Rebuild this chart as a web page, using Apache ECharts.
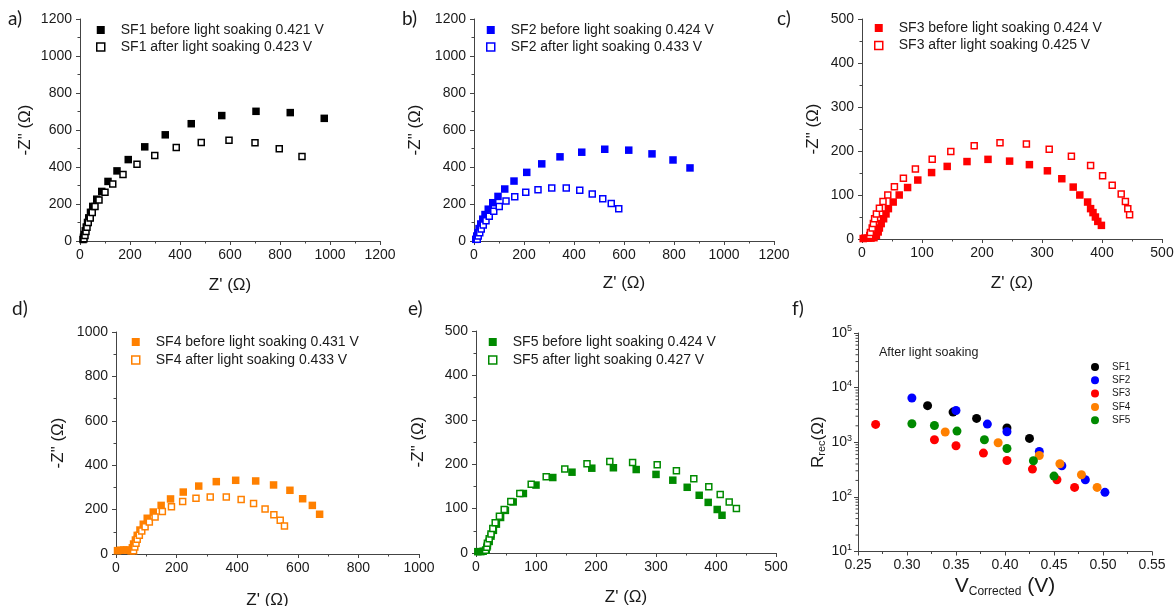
<!DOCTYPE html>
<html><head><meta charset="utf-8">
<script src="https://cdn.jsdelivr.net/npm/echarts@6/dist/echarts.min.js"></script>
<style>html,body{margin:0;padding:0;background:#fff}#c{width:1175px;height:606px}</style>
</head><body><div id="c"></div>
<script>
// ---------- DATA (Z' , -Z'') ----------
const sf1Before = [[12,8],[14,20],[17,35],[21,55],[25,75],[30,100],[35,125],[42,155],[51,187],[67,226],[87,268],[112,322],[148,379],[193,440],[259,509],[341,574],[445,634],[567,678],[704,701],[841,694],[977,663]];
const sf1After = [[16,12],[20,30],[24,51],[28,75],[33,100],[41,125],[49,154],[60,187],[76,221],[100,263],[131,308],[172,359],[228,415],[299,462],[385,505],[485,533],[596,545],[700,531],[797,498],[888,457]];
const sf2Before = [[7,9],[11,27],[15,45],[20,67],[27,92],[35,118],[44,143],[57,172],[75,207],[96,241],[123,281],[160,324],[211,371],[271,417],[344,455],[431,480],[523,496],[619,491],[712,471],[796,438],[864,395]];
const sf2After = [[13,9],[17,27],[23,45],[29,65],[37,87],[48,110],[61,134],[79,161],[101,187],[128,216],[163,239],[207,263],[256,277],[311,286],[369,286],[423,275],[473,254],[515,228],[549,203],[579,174]];
const sf3Before = [[2,1],[5,2],[10,2],[15,2],[20,3],[24,8],[27,16],[29,25],[32,35],[36,46],[40,57],[44,69],[52,84],[62,100],[76,117],[93,134],[116,151],[142,165],[175,176],[210,181],[246,177],[279,169],[309,155],[333,137],[352,118],[363,100],[376,84],[381,69],[385,60],[389,50],[393,40],[399,31]];
const sf3After = [[13,8],[14,15],[17,25],[19,35],[21,46],[24,57],[29,70],[35,85],[43,100],[54,119],[69,138],[89,159],[117,181],[148,199],[187,212],[230,219],[274,216],[312,204],[349,188],[381,167],[401,144],[417,122],[432,102],[439,85],[443,69],[446,55]];
const sf4Before = [[5,15],[15,17],[25,18],[35,18],[45,17],[50,14],[54,28],[58,45],[64,63],[70,84],[79,108],[90,134],[103,161],[123,189],[149,219],[180,248],[222,279],[273,306],[331,326],[395,332],[461,329],[520,311],[574,287],[616,249],[648,219],[672,179]];
const sf4After = [[58,15],[62,32],[66,48],[70,66],[77,84],[85,104],[96,123],[110,144],[129,167],[153,192],[183,213],[220,236],[264,251],[311,257],[364,257],[413,246],[454,228],[492,203],[521,177],[542,152],[556,126]];
const sf5Before = [[3,3],[8,3],[12,4],[17,7],[19,16],[22,26],[25,38],[29,51],[34,65],[41,80],[49,96],[62,115],[79,134],[100,153],[128,170],[160,182],[193,191],[229,192],[267,188],[300,177],[328,164],[352,148],[372,130],[387,114],[402,98],[410,85]];
const sf5After = [[16,6],[18,13],[19,22],[22,32],[25,43],[28,55],[32,68],[39,83],[47,98],[58,116],[73,134],[92,155],[117,172],[148,189],[185,201],[223,206],[261,204],[302,199],[334,185],[363,167],[388,149],[407,132],[422,115],[434,100]];
// ---------- DATA panel f (V corrected, R rec) ----------
const rrecSF1 = [[0.321,4670],[0.347,3570],[0.371,2730],[0.402,1820],[0.425,1175]];
const rrecSF2 = [[0.305,6460],[0.350,3820],[0.382,2150],[0.402,1560],[0.435,680],[0.458,372],[0.482,206],[0.502,121]];
const rrecSF3 = [[0.268,2120],[0.328,1110],[0.350,863],[0.378,634],[0.402,464],[0.428,323],[0.453,206],[0.471,149]];
const rrecSF4 = [[0.339,1540],[0.393,980],[0.435,573],[0.456,404],[0.478,254],[0.494,149]];
const rrecSF5 = [[0.305,2180],[0.328,2030],[0.351,1600],[0.379,1110],[0.402,770],[0.429,458],[0.450,240]];
// ---------- LABELS ----------
const panelLabels = ['a)','b)','c)','d)','e)','f)'];
const legendNames = [
  ['SF1 before light soaking 0.421 V','SF1 after light soaking 0.423 V'],
  ['SF2 before light soaking 0.424 V','SF2 after light soaking 0.433 V'],
  ['SF3 before light soaking 0.424 V','SF3 after light soaking 0.425 V'],
  ['SF4 before light soaking 0.431 V','SF4 after light soaking 0.433 V'],
  ['SF5 before light soaking 0.424 V','SF5 after light soaking 0.427 V']
];
const fNames = ['SF1','SF2','SF3','SF4','SF5'];
const fNote = 'After light soaking';

const colors = ['#000000','#0000ff','#ff0000','#ff8000','#008a00'];
const pairs = [[sf1Before,sf1After],[sf2Before,sf2After],[sf3Before,sf3After],[sf4Before,sf4After],[sf5Before,sf5After]];
const rrec = [rrecSF1,rrecSF2,rrecSF3,rrecSF4,rrecSF5];

// ---------- LAYOUT ----------
const layout = [
  {grid:{left:80,top:19,width:300,height:222}, x:[0,1200,200], y:[0,1200,200], xGap:36, yGap:46, leg:{left:96,top:23,gap:3}, lab:{left:8,top:9}},
  {grid:{left:474,top:19,width:300,height:222}, x:[0,1200,200], y:[0,1200,200], xGap:34, yGap:50, leg:{left:486,top:23,gap:3}, lab:{left:402,top:9}},
  {grid:{left:862,top:19,width:300,height:220}, x:[0,500,100], y:[0,500,100], xGap:36, yGap:40, leg:{left:874,top:21,gap:3.5}, lab:{left:777,top:9}},
  {grid:{left:116,top:332,width:303,height:222}, x:[0,1000,200], y:[0,1000,200], xGap:38, yGap:49, leg:{left:131,top:335,gap:4}, lab:{left:12,top:299}},
  {grid:{left:476,top:331,width:300,height:222}, x:[0,500,100], y:[0,500,100], xGap:36, yGap:49, leg:{left:488,top:335,gap:4}, lab:{left:408,top:299}}
];
const FONT = 'Liberation Sans';
const axisCol = '#444';

function baseAxis(gi, r){
  return {
    type:'value', gridIndex:gi, min:r[0], max:r[1], interval:r[2],
    axisLine:{show:true,onZero:false,lineStyle:{color:axisCol,width:1}},
    axisTick:{show:true,length:4,lineStyle:{color:axisCol}},
    minorTick:{show:true,splitNumber:2,length:2.5,lineStyle:{color:axisCol}},
    splitLine:{show:false}, minorSplitLine:{show:false},
    axisLabel:{color:'#1a1a1a',fontSize:14,fontFamily:FONT,margin:7,formatter:v=>String(v)},
    nameLocation:'middle',
    nameTextStyle:{fontSize:17,color:'#1a1a1a',fontFamily:FONT}
  };
}

const grids=[], xAxes=[], yAxes=[], series=[], legends=[], titles=[];
layout.forEach((L,i)=>{
  grids.push(Object.assign({containLabel:false,outerBoundsMode:'none'},L.grid));
  xAxes.push(Object.assign(baseAxis(i,L.x),{name:"Z' (Ω)",nameGap:L.xGap}));
  yAxes.push(Object.assign(baseAxis(i,L.y),{name:'-Z" (Ω)',nameGap:L.yGap,axisLabel:{color:'#1a1a1a',fontSize:14,fontFamily:FONT,margin:8,formatter:v=>String(v)}}));
  const c = colors[i];
  series.push({type:'scatter',name:legendNames[i][0],xAxisIndex:i,yAxisIndex:i,data:pairs[i][0],
    symbol:'rect',symbolSize:7.5,itemStyle:{color:c,opacity:1},emphasis:{disabled:true},z:2});
  series.push({type:'scatter',name:legendNames[i][1],xAxisIndex:i,yAxisIndex:i,data:pairs[i][1],
    symbol:'rect',symbolSize:6,itemStyle:{color:'#ffffff',borderColor:c,borderWidth:1.5,opacity:1},emphasis:{disabled:true},z:3});
  legends.push({data:legendNames[i],left:L.leg.left,top:L.leg.top,orient:'vertical',padding:0,
    itemWidth:8,itemHeight:8,itemGap:L.leg.gap,selectedMode:false,
    itemStyle:{borderWidth:1.5},
    textStyle:{fontSize:14,color:'#1a1a1a',fontFamily:FONT,padding:[0,0,0,11]}});
  titles.push({text:panelLabels[i],left:L.lab.left,top:L.lab.top,padding:0,
    textStyle:{fontSize:19,fontWeight:'normal',color:'#1a1a1a',fontFamily:'Lato'}});
});

// panel f
const fi = 5;
grids.push({left:858,top:333,width:294,height:218.5,containLabel:false,outerBoundsMode:'none'});
xAxes.push(Object.assign(baseAxis(fi,[0.25,0.55,0.05]),{
  axisLabel:{color:'#1a1a1a',fontSize:14,fontFamily:FONT,margin:7,formatter:v=>v.toFixed(2)},
  name:'V{sub|Corrected} (V)',nameGap:24,
  nameTextStyle:{fontSize:21,color:'#1a1a1a',fontFamily:FONT,rich:{sub:{fontSize:12,verticalAlign:'bottom',padding:[10,0,0,0],fontFamily:FONT,color:'#1a1a1a'}}}
}));
yAxes.push({type:'log',logBase:10,gridIndex:fi,min:10,max:100000,
  axisLine:{show:true,onZero:false,lineStyle:{color:axisCol,width:1}},
  axisTick:{show:true,length:4,lineStyle:{color:axisCol}},
  splitLine:{show:false},
  axisLabel:{color:'#1a1a1a',fontSize:14,fontFamily:FONT,margin:6,
    formatter:v=>'10{s|'+Math.round(Math.log10(v))+'}',
    rich:{s:{fontSize:9,verticalAlign:'top',padding:[0,0,8,0],fontFamily:FONT,color:'#1a1a1a'}}},
  nameLocation:'middle',name:'R{sub|rec}(Ω)',nameGap:30,
  nameTextStyle:{fontSize:17,color:'#1a1a1a',fontFamily:FONT,rich:{sub:{fontSize:11,verticalAlign:'bottom',padding:[8,0,0,0],fontFamily:FONT,color:'#1a1a1a'}}}
});
fNames.forEach((n,k)=>{
  series.push({type:'scatter',name:n,xAxisIndex:fi,yAxisIndex:fi,data:rrec[k],symbol:'circle',symbolSize:9,
    itemStyle:{color:colors[k],opacity:1},emphasis:{disabled:true},z:2+k});
});
// log minor ticks (2..9 x 10^n) drawn through the log scale
const logMinor = [];
for(let d=1; d<5; d++){ for(let m=2; m<10; m++){ logMinor.push([0.25, m*Math.pow(10,d)]); } }
series.push({type:'custom',xAxisIndex:fi,yAxisIndex:fi,data:logMinor,clip:false,silent:true,z:1,
  renderItem:(params,api)=>{const p=api.coord([api.value(0),api.value(1)]);
    return {type:'line',shape:{x1:p[0]-2.5,y1:p[1],x2:p[0],y2:p[1]},style:{stroke:axisCol,lineWidth:1}};}});
legends.push({data:fNames,left:1091,top:362,orient:'vertical',padding:0,itemWidth:8,itemHeight:8,itemGap:3.3,
  selectedMode:false,textStyle:{fontSize:10,color:'#1a1a1a',fontFamily:FONT,padding:[0,0,0,8]}});
titles.push({text:panelLabels[5],left:792,top:299,padding:0,textStyle:{fontSize:19,fontWeight:'normal',color:'#1a1a1a',fontFamily:'Lato'}});
titles.push({text:fNote,left:879,top:346,padding:0,textStyle:{fontSize:12.5,fontWeight:'normal',color:'#1a1a1a',fontFamily:FONT}});

const chart = echarts.init(document.getElementById('c'),null,{renderer:'canvas'});
chart.setOption({animation:false,backgroundColor:'#fff',title:titles,grid:grids,xAxis:xAxes,yAxis:yAxes,legend:legends,series:series,tooltip:{show:false}});
</script></body></html>
